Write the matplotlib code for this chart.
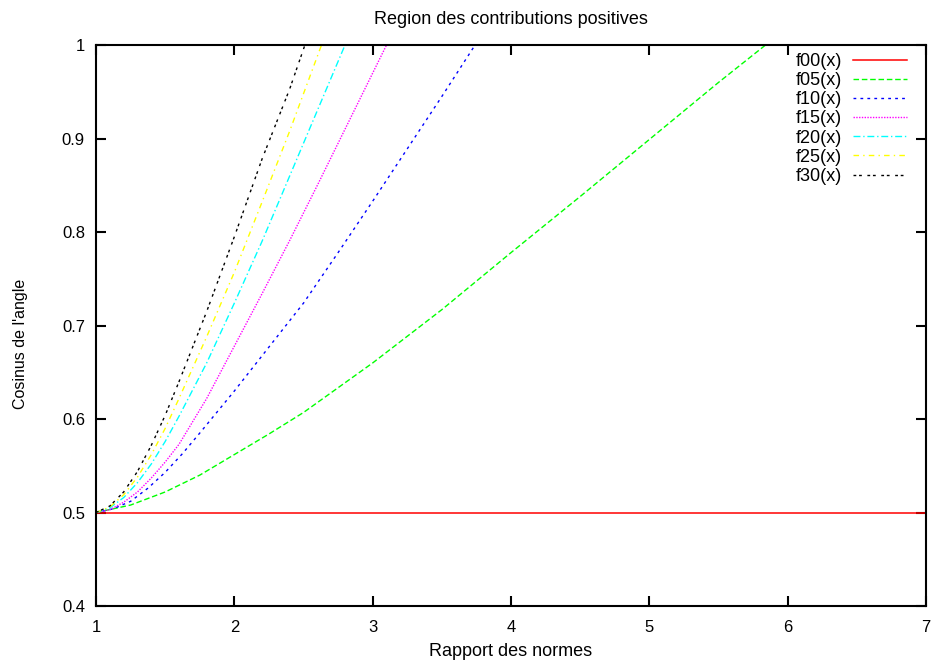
import matplotlib
matplotlib.use("Agg")
import matplotlib.pyplot as plt

# ── Data (ratio of norms -> cosine) ───────────────────────────────────────────
X_F00 = [1.0, 7.0]
Y_F00 = [0.5, 0.5]

X_F05 = [1.0, 1.25, 1.5, 1.75, 2.0, 2.25, 2.5, 3.0, 3.5, 4.0, 4.5, 5.0, 5.5, 5.84]
Y_F05 = [0.5, 0.508, 0.522, 0.540, 0.562, 0.584, 0.607, 0.660, 0.717, 0.778,
         0.838, 0.899, 0.960, 1.0]

X_F10 = [1.0, 1.125, 1.25, 1.375, 1.5, 1.625, 1.75, 2.0, 2.25, 2.5, 2.75, 3.0,
         3.25, 3.5, 3.74]
Y_F10 = [0.5, 0.504, 0.512, 0.526, 0.543, 0.563, 0.585, 0.630, 0.677, 0.724,
         0.778, 0.833, 0.889, 0.945, 1.0]

X_F15 = [1.0, 1.1, 1.2, 1.3, 1.4, 1.5, 1.6, 1.8, 2.0, 2.2, 2.4, 2.6, 2.8, 3.0, 3.1]
Y_F15 = [0.5, 0.503, 0.511, 0.522, 0.537, 0.554, 0.573, 0.622, 0.678, 0.734,
         0.791, 0.850, 0.910, 0.970, 1.0]

X_F20 = [1.0, 1.1, 1.2, 1.3, 1.4, 1.5, 1.6, 1.8, 2.0, 2.2, 2.4, 2.6, 2.8]
Y_F20 = [0.5, 0.505, 0.516, 0.532, 0.552, 0.576, 0.603, 0.660, 0.724, 0.790,
         0.860, 0.930, 1.0]

X_F25 = [1.0, 1.1, 1.2, 1.3, 1.4, 1.5, 1.6, 1.8, 2.0, 2.2, 2.4, 2.63]
Y_F25 = [0.5, 0.506, 0.519, 0.538, 0.562, 0.590, 0.622, 0.688, 0.757, 0.832,
         0.908, 1.0]

X_F30 = [1.0, 1.1, 1.2, 1.3, 1.4, 1.5, 1.6, 1.8, 2.0, 2.2, 2.4, 2.51]
Y_F30 = [0.5, 0.507, 0.522, 0.544, 0.572, 0.604, 0.640, 0.715, 0.795, 0.878,
         0.953, 1.0]

LABELS = ["f00(x)", "f05(x)", "f10(x)", "f15(x)", "f20(x)", "f25(x)", "f30(x)"]
X_TICKS = [1, 2, 3, 4, 5, 6, 7]
Y_TICKS = [0.4, 0.5, 0.6, 0.7, 0.8, 0.9, 1.0]
Y_TICK_LABELS = ["0.4", "0.5", "0.6", "0.7", "0.8", "0.9", "1"]

# gnuplot-like colours and dash patterns
STYLES = [
    ("#ff0000", "-"),
    ("#00ff00", (0, (4, 2))),
    ("#0000ff", (0, (2, 3))),
    ("#ff00ff", (0, (1, 1))),
    ("#00ffff", (0, (5, 2, 1, 2))),
    ("#ffff00", (0, (4, 3, 1, 3))),
    ("#000000", (0, (2, 2, 2, 4))),
]

plt.rcParams["font.family"] = ["Liberation Sans", "DejaVu Sans"]

fig = plt.figure(figsize=(9.35, 6.64), dpi=100)
ax = fig.add_axes([0.1027, 0.0873, 0.8877, 0.8449])

series = [
    (X_F00, Y_F00), (X_F05, Y_F05), (X_F10, Y_F10), (X_F15, Y_F15),
    (X_F20, Y_F20), (X_F25, Y_F25), (X_F30, Y_F30),
]
for (xs, ys), (color, ls), label in zip(series, STYLES, LABELS):
    ax.plot(xs, ys, color=color, linestyle=ls, lw=1.1 if ls == "-" else 1.0,
            label=label)

ax.set_xlim(1, 7)
ax.set_ylim(0.4, 1.0)
ax.set_xticks(X_TICKS)
ax.set_xticklabels([str(t) for t in X_TICKS])
ax.set_yticks(Y_TICKS)
ax.set_yticklabels(Y_TICK_LABELS)
ax.tick_params(direction="in", length=7, width=1.5, top=True, right=True,
               labelsize=12, pad=8)
ax.tick_params(axis="x", pad=10)
for sp in ax.spines.values():
    sp.set_linewidth(1.5)

ax.set_title("Region des contributions positives", fontsize=13, pad=15)
ax.set_xlabel("Rapport des normes", fontsize=13, labelpad=6)
ax.set_ylabel("Cosinus de l'angle", fontsize=11.5)
ax.yaxis.set_label_coords(-0.082, 0.467)

leg = ax.legend(loc="upper right", bbox_to_anchor=(0.977, 0.986), frameon=False,
                fontsize=13, markerfirst=False, handlelength=3.0,
                labelspacing=0.12, borderpad=0, borderaxespad=0,
                handletextpad=0.6)

fig.savefig("out.png", dpi=100)
